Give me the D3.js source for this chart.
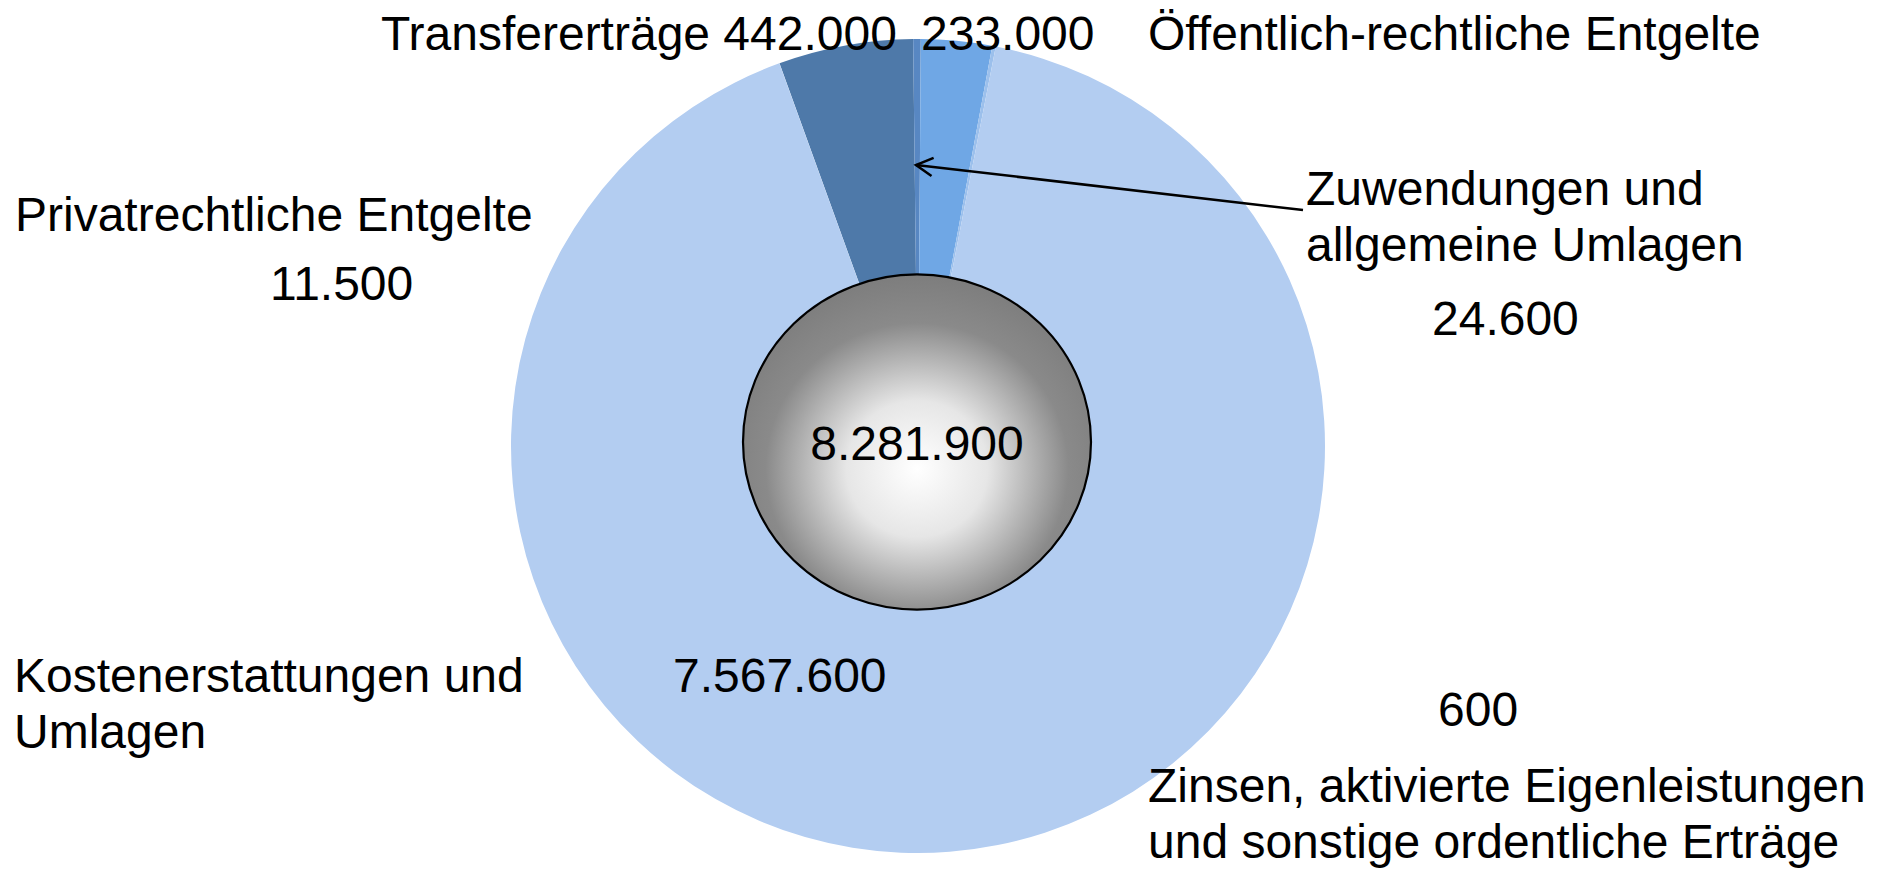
<!DOCTYPE html>
<html>
<head>
<meta charset="utf-8">
<script src="https://cdn.jsdelivr.net/npm/d3@7"></script>
<style>
  html, body { margin: 0; padding: 0; background: #ffffff; }
  svg text { font-family: "Liberation Sans", Arial, sans-serif; font-size: 48px; fill: #000; }
</style>
</head>
<body>
<svg id="chart" width="1885" height="869"></svg>
<script>
// ---- data ----
const categories = [
  "Transfererträge",
  "Zuwendungen und allgemeine Umlagen",
  "Öffentlich-rechtliche Entgelte",
  "Privatrechtliche Entgelte",
  "Kostenerstattungen und Umlagen",
  "Zinsen, aktivierte Eigenleistungen und sonstige ordentliche Erträge"
];
const values = [442000, 24600, 233000, 11500, 7567600, 600];
const totalValue = 8281900;

// ---- styles / layout (not data) ----
const colors = ["#4E79A9", "#5887C2", "#6FA7E5", "#9CC0EC", "#B3CDF1", "#C3D8F4"];
const W = 1885, H = 869;
const cx = 918, cy = 446, outerR = 407;
const startDeg = -19.9;

// label layout: category lines and value position
const labelLayout = [
  { cat: [], catX: 0, catY: 0, val: null }, // Transfer (combined line below)
  { cat: ["Zuwendungen und", "allgemeine Umlagen"], catX: 1306, catY: 205, valX: 1432, valY: 335 },
  { cat: ["Öffentlich-rechtliche Entgelte"], catX: 1148, catY: 50, valX: 921, valY: 50 },
  { cat: ["Privatrechtliche Entgelte"], catX: 15, catY: 231, valX: 270, valY: 300 },
  { cat: ["Kostenerstattungen und", "Umlagen"], catX: 14, catY: 692, valX: 673, valY: 692 },
  { cat: ["Zinsen, aktivierte Eigenleistungen", "und sonstige ordentliche Erträge"], catX: 1148, catY: 802, valX: 1438, valY: 726 }
];
const lineH = 56;

const de = d3.formatLocale({ decimal: ",", thousands: ".", grouping: [3], currency: ["", " €"] });
const fmt = de.format(",.0f");

const svg = d3.select("#chart");

// gradient for the centre
const defs = svg.append("defs");
const grad = defs.append("radialGradient").attr("id", "centerGrad")
  .attr("cx", "50%").attr("cy", "58%").attr("r", "58%").attr("fx", "50%").attr("fy", "58%");
grad.append("stop").attr("offset", "0%").attr("stop-color", "#ffffff");
grad.append("stop").attr("offset", "35%").attr("stop-color", "#e6e6e6");
grad.append("stop").attr("offset", "75%").attr("stop-color", "#8a8a8a");
grad.append("stop").attr("offset", "100%").attr("stop-color", "#7d7d7d");

const pie = d3.pie().sort(null)
  .startAngle(startDeg * Math.PI / 180)
  .endAngle((startDeg + 360) * Math.PI / 180);
const arcs = pie(values);
const arc = d3.arc().innerRadius(140).outerRadius(outerR);

const g = svg.append("g").attr("transform", `translate(${cx},${cy})`);
g.selectAll("path.slice").data(arcs).join("path")
  .attr("class", "slice")
  .attr("d", arc)
  .attr("fill", (d, i) => colors[i]);

// inner total disc (inner pie with a single value)
const innerPie = d3.pie().sort(null)([totalValue]);
const innerG = svg.append("g").attr("transform", `translate(917,442) scale(1,0.963)`);
innerG.selectAll("path").data(innerPie).join("path")
  .attr("d", d3.arc().innerRadius(0).outerRadius(174))
  .attr("fill", "url(#centerGrad)")
  .attr("stroke", "#000").attr("stroke-width", 2.2)
  .attr("vector-effect", "non-scaling-stroke");

svg.append("text").attr("x", 917).attr("y", 460).attr("text-anchor", "middle")
  .text(fmt(totalValue));

// labels
const lbl = svg.append("g");
lbl.append("text").attr("x", 381).attr("y", 50)
  .text(categories[0] + " " + fmt(values[0]));
labelLayout.forEach((L, i) => {
  if (i === 0) return;
  L.cat.forEach((line, k) => {
    lbl.append("text").attr("x", L.catX).attr("y", L.catY + k * lineH).text(line);
  });
  lbl.append("text").attr("x", L.valX).attr("y", L.valY).text(fmt(values[i]));
});

// leader arrow for Zuwendungen
const tip = [916, 165], from = [1303, 210];
svg.append("line").attr("x1", from[0]).attr("y1", from[1]).attr("x2", tip[0]).attr("y2", tip[1])
  .attr("stroke", "#000").attr("stroke-width", 2.5);
const ang = Math.atan2(from[1] - tip[1], from[0] - tip[0]);
const ah = 19, aw = 0.5;
svg.append("path")
  .attr("d", `M${tip[0] + ah * Math.cos(ang - aw)},${tip[1] + ah * Math.sin(ang - aw)} L${tip[0]},${tip[1]} L${tip[0] + ah * Math.cos(ang + aw)},${tip[1] + ah * Math.sin(ang + aw)}`)
  .attr("fill", "none").attr("stroke", "#000").attr("stroke-width", 2.5);
</script>
</body>
</html>
